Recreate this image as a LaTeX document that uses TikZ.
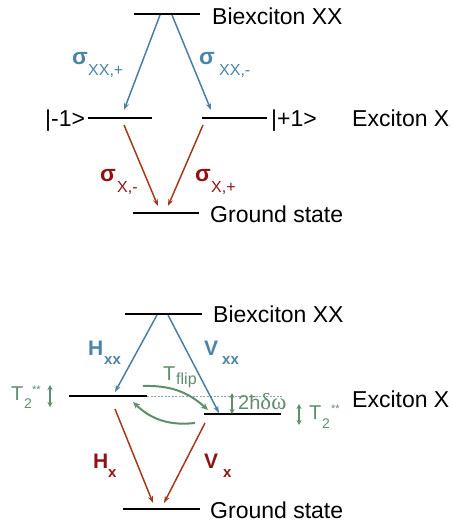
\documentclass[tikz,border=0pt]{standalone}
\usepackage{fontspec}
\setmainfont{Liberation Sans}
\newfontfamily\grserif{Liberation Serif}
\usetikzlibrary{arrows.meta}
\definecolor{bl}{HTML}{4A7FA0}
\definecolor{bltx}{HTML}{4A84A6}
\definecolor{rd}{HTML}{A33A1C}
\definecolor{rdtx}{HTML}{8E1414}
\definecolor{gr}{HTML}{5E8E6C}
\tikzset{
  lvl/.style={line width=1.4pt, black},
  lvlthick/.style={line width=2pt, black},
  txt/.style={inner sep=0pt, anchor=base west, font=\fontsize{23}{27}\selectfont},
  lab/.style={inner sep=0pt, anchor=base west},
  bigsym/.style={lab, font=\fontsize{23}{27}\selectfont\bfseries},
  subsym/.style={lab, font=\fontsize{16}{18}\selectfont},
  bluearr/.style={draw=bl, line width=1.5pt, -{Stealth[length=7pt,width=5pt]}},
  redarr/.style={draw=rd, line width=1.5pt, -{Stealth[length=7pt,width=5pt]}},
  grarr/.style={draw=gr, line width=2pt, -{Stealth[length=7pt,width=6pt]}},
  grdbl/.style={draw=gr, line width=1.6pt, {Stealth[length=5pt,width=5pt]}-{Stealth[length=5pt,width=5pt]}},
}
\begin{document}
\begin{tikzpicture}[x=1pt,y=-1pt]
\useasboundingbox (0,0) rectangle (451,527);
% ================= TOP DIAGRAM =================
\coordinate (bxL) at (134,14); \coordinate (bxR) at (200,14);
\draw[lvl] (bxL) -- (bxR);
\coordinate (emL) at (88,118); \coordinate (emR) at (152,118);
\draw[lvl] (emL) -- (emR);
\coordinate (epL) at (202,118); \coordinate (epR) at (267,118);
\draw[lvl] (epL) -- (epR);
\coordinate (gL) at (133,213); \coordinate (gR) at (199,213);
\draw[lvl] (gL) -- (gR);
\node[txt] (tbx) at (212,25) {Biexciton XX};
\node[txt] (tm1) at (45,126) {|-1>};
\node[txt] (tp1) at (271,126) {|+1>};
\node[txt] (tex) at (352,126) {Exciton X};
\node[txt] (tg) at (210,222) {Ground state};
\coordinate (a1s) at (160,15); \coordinate (a1e) at (124,110);
\coordinate (a2s) at (172,15); \coordinate (a2e) at (211,110);
\draw[bluearr] (a1s) -- (a1e);
\draw[bluearr] (a2s) -- (a2e);
\coordinate (r1s) at (124,125); \coordinate (r1e) at (158,206);
\coordinate (r2s) at (203,125); \coordinate (r2e) at (168,206);
\draw[redarr] (r1s) -- (r1e);
\draw[redarr] (r2s) -- (r2e);
\node[bigsym, text=bltx] (s1) at (72,64) {σ};
\node[subsym, text=bltx] (s1b) at (88,75) {XX,+};
\node[bigsym, text=bltx] (s2) at (199,64) {σ};
\node[subsym, text=bltx] (s2b) at (219,75) {XX,-};
\node[bigsym, text=rdtx] (s3) at (100,181) {σ};
\node[subsym, text=rdtx] (s3b) at (117,192) {X,-};
\node[bigsym, text=rdtx] (s4) at (195,181) {σ};
\node[subsym, text=rdtx] (s4b) at (211,192) {X,+};
% ================= BOTTOM DIAGRAM =================
\coordinate (BbxL) at (125,314); \coordinate (BbxR) at (202,314);
\draw[lvl] (BbxL) -- (BbxR);
\coordinate (BhL) at (69,396); \coordinate (BhR) at (147,396);
\draw[lvl] (BhL) -- (BhR);
\coordinate (BdashR) at (282,396);
\draw[bl!70, line width=0.6pt, dash pattern=on 2pt off 1.5pt] (BhR) -- (BdashR);
\coordinate (BvL) at (204,414); \coordinate (BvR) at (281,414);
\draw[lvlthick] (BvL) -- (BvR);
\coordinate (BgL) at (123,509); \coordinate (BgR) at (200,509);
\draw[lvl] (BgL) -- (BgR);
\node[txt] (Btbx) at (213,322) {Biexciton XX};
\node[txt] (Btex) at (352,407) {Exciton X};
\node[txt] (Btg) at (210,518) {Ground state};
\coordinate (B1s) at (157,315); \coordinate (B1e) at (115,392);
\coordinate (B2s) at (168,315); \coordinate (B2e) at (219,413);
\draw[bluearr] (B1s) -- (B1e);
\draw[bluearr] (B2s) -- (B2e);
\coordinate (R1s) at (115,409); \coordinate (R1e) at (153,503);
\coordinate (R2s) at (205,423); \coordinate (R2e) at (164,503);
\draw[redarr] (R1s) -- (R1e);
\draw[redarr] (R2s) -- (R2e);
\node[bigsym, text=bltx, font=\fontsize{21}{24}\selectfont\bfseries] (Hxx) at (88,355) {H};
\node[subsym, text=bltx, font=\fontsize{15}{17}\selectfont\bfseries] (Hxxs) at (104,364) {xx};
\node[bigsym, text=bltx, font=\fontsize{21}{24}\selectfont\bfseries] (Vxx) at (204,355) {V};
\node[subsym, text=bltx, font=\fontsize{15}{17}\selectfont\bfseries] (Vxxs) at (222,364) {xx};
\node[bigsym, text=rdtx, font=\fontsize{21}{24}\selectfont\bfseries] (Hx) at (93,468) {H};
\node[subsym, text=rdtx, font=\fontsize{15}{17}\selectfont\bfseries] (Hxs) at (108,477) {x};
\node[bigsym, text=rdtx, font=\fontsize{21}{24}\selectfont\bfseries] (Vx) at (204,468) {V};
\node[subsym, text=rdtx, font=\fontsize{15}{17}\selectfont\bfseries] (Vxs) at (223,477) {x};
\coordinate (F1s) at (143,386); \coordinate (F1e) at (208,410);
\draw[grarr] (F1s) to[bend left=22] (F1e);
\coordinate (F2s) at (195,423); \coordinate (F2e) at (133,402);
\draw[grarr] (F2s) to[bend left=25] (F2e);
\node[lab, text=gr, font=\fontsize{20}{23}\selectfont] (Tf) at (163,380) {T};
\node[subsym, text=gr] (Tfs) at (176,384) {flip};
\coordinate (dwT) at (232,393); \coordinate (dwB) at (232,414);
\draw[grdbl] (dwT) -- (dwB);
\node[lab, text=gr, font=\fontsize{20}{23}\selectfont] (dw) at (238,409) {2ħ{\grserif\fontsize{23}{26}\selectfont δω}};
\coordinate (t2lT) at (50,385); \coordinate (t2lB) at (50,407);
\draw[grdbl] (t2lT) -- (t2lB);
\node[lab, text=gr, font=\fontsize{20}{23}\selectfont] (T2l) at (11,400) {T};
\node[lab, text=gr, font=\fontsize{14}{16}\selectfont] (T2ls) at (24,408) {2};
\node[lab, text=gr, font=\fontsize{11}{13}\selectfont] (T2lp) at (32,393) {**};
\coordinate (t2rT) at (299,404); \coordinate (t2rB) at (299,425);
\draw[grdbl] (t2rT) -- (t2rB);
\node[lab, text=gr, font=\fontsize{20}{23}\selectfont] (T2r) at (309,419) {T};
\node[lab, text=gr, font=\fontsize{14}{16}\selectfont] (T2rs) at (322,428) {2};
\node[lab, text=gr, font=\fontsize{11}{13}\selectfont] (T2rp) at (331,412) {**};
\end{tikzpicture}
\end{document}
